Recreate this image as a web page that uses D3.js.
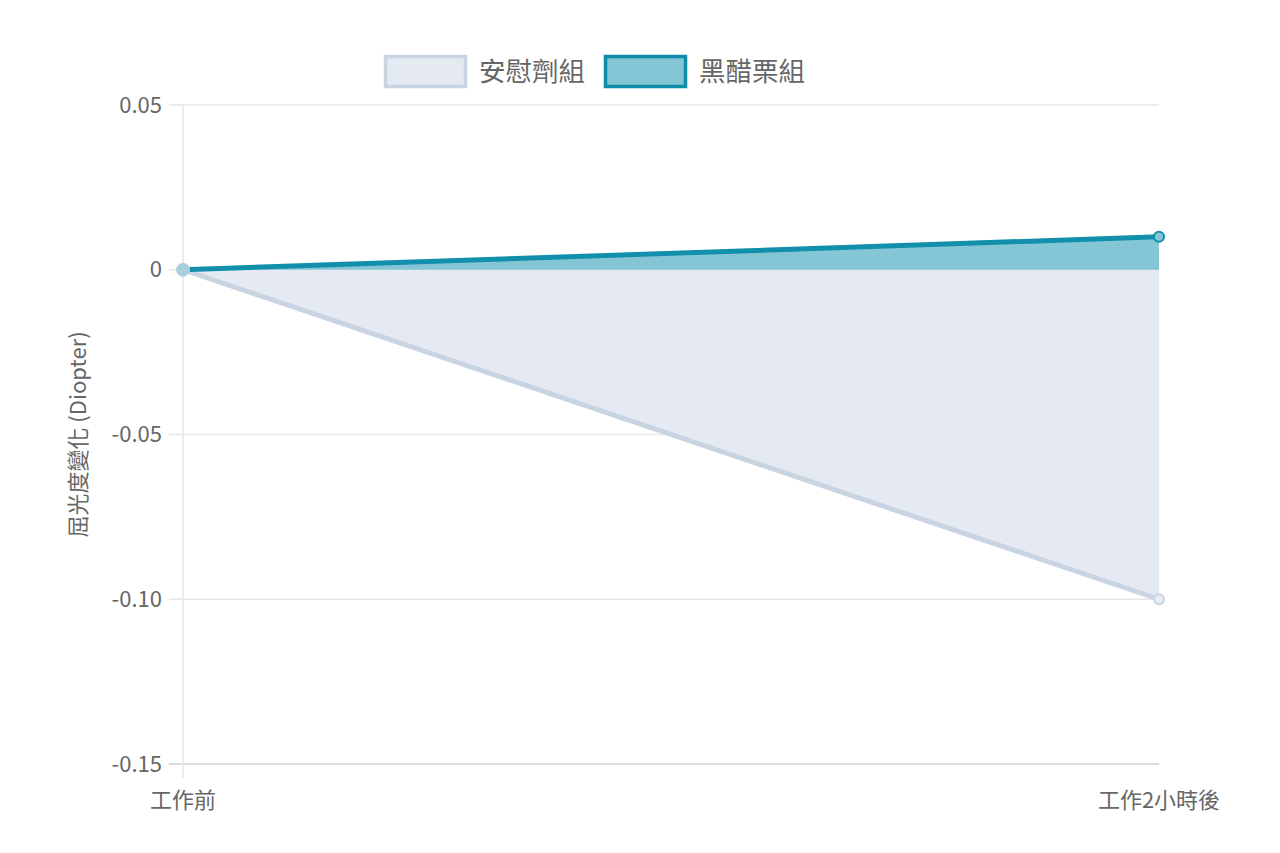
<!DOCTYPE html>
<html>
<head>
<meta charset="utf-8">
<script src="https://cdn.jsdelivr.net/npm/d3@7"></script>
<style>
  body { margin: 0; background: #fff; }
  text { font-family: "Noto Sans CJK TC", "Noto Sans", sans-serif; fill: #666; }
</style>
</head>
<body>
<div id="chart"></div>
<script>
// data
const labels = ["工作前", "工作2小時後"];
const seriesNames = ["安慰劑組", "黑醋栗組"];
const placebo = [0, -0.10];
const blackcurrant = [0, 0.01];
const yTicks = [0.05, 0, -0.05, -0.10, -0.15];
const yTickLabels = ["0.05", "0", "-0.05", "-0.10", "-0.15"];

const W = 1280, H = 853;
const margin = { top: 105, right: 121, bottom: 89, left: 183 },
    width = W - margin.left - margin.right,
    height = H - margin.top - margin.bottom;

const svg = d3.select("#chart")
    .append("svg")
    .attr("width", W)
    .attr("height", H);

const g = svg.append("g")
    .attr("transform", `translate(${margin.left}, ${margin.top})`);

const x = d3.scalePoint()
    .domain(labels)
    .range([0, width]);

const y = d3.scaleLinear()
    .domain([-0.15, 0.05])
    .range([height, 0]);

// grid lines + y ticks
g.append("g")
    .selectAll("line")
    .data(yTicks)
    .join("line")
    .attr("x1", -14)
    .attr("x2", width)
    .attr("y1", d => y(d))
    .attr("y2", d => y(d))
    .attr("stroke", (d, i) => i === yTicks.length - 1 ? "#d0d0d0" : "#e6e6e6")
    .attr("stroke-width", 1.5);

g.append("line")
    .attr("x1", 0).attr("x2", 0)
    .attr("y1", 0).attr("y2", height + 14)
    .attr("stroke", "#e6e6e6")
    .attr("stroke-width", 1.5);

g.append("g")
    .selectAll("text")
    .data(yTicks)
    .join("text")
    .attr("x", -21)
    .attr("y", d => y(d))
    .attr("dy", "0.35em")
    .attr("text-anchor", "end")
    .style("font-size", "22px")
    .text((d, i) => yTickLabels[i]);

g.append("g")
    .selectAll("text")
    .data(labels)
    .join("text")
    .attr("x", d => x(d))
    .attr("y", height + 44)
    .attr("text-anchor", "middle")
    .style("font-size", "22px")
    .text(d => d);

svg.append("text")
    .attr("transform", `translate(78, ${margin.top + y(-0.05)}) rotate(-90)`)
    .attr("text-anchor", "middle")
    .attr("dy", "0.35em")
    .style("font-size", "22px")
    .text("屈光度變化 (Diopter)");

const series = [
    { name: seriesNames[0], values: placebo, line: "#c9d4e2", fill: "#e5e9f1", point: "#e9eef5" },
    { name: seriesNames[1], values: blackcurrant, line: "#118fab", fill: "#85c6d6", point: "#85c6d6" }
];

const area = d3.area()
    .x((d, i) => x(labels[i]))
    .y0(y(0))
    .y1(d => y(d));

const line = d3.line()
    .x((d, i) => x(labels[i]))
    .y(d => y(d));

series.forEach(s => {
    g.append("path")
        .datum(s.values)
        .attr("d", area)
        .attr("fill", s.fill);
});

series.forEach(s => {
    g.append("path")
        .datum(s.values)
        .attr("d", line)
        .attr("fill", "none")
        .attr("stroke", s.line)
        .attr("stroke-width", 5);
    g.append("g")
        .selectAll("circle")
        .data(s.values)
        .join("circle")
        .attr("cx", (d, i) => x(labels[i]))
        .attr("cy", d => y(d))
        .attr("r", 5)
        .attr("fill", s.point)
        .attr("stroke", s.line)
        .attr("stroke-width", 2);
});

// first point overlay (light blue as in reference)
g.append("circle")
    .attr("cx", x(labels[0]))
    .attr("cy", y(placebo[0]))
    .attr("r", 6.5)
    .attr("fill", "#a9cfdf")
    .attr("stroke", "#b8d3e2")
    .attr("stroke-width", 1);

// legend
const legendItems = [
    { name: seriesNames[0], fill: "#e5e9f1", stroke: "#c9d4e2", x: 384 },
    { name: seriesNames[1], fill: "#85c6d6", stroke: "#0f8ca8", x: 604 }
];
const legend = svg.append("g");
legendItems.forEach(l => {
    legend.append("rect")
        .attr("x", l.x + 1.5)
        .attr("y", 56.5)
        .attr("width", 80)
        .attr("height", 30)
        .attr("fill", l.fill)
        .attr("stroke", l.stroke)
        .attr("stroke-width", 3.5);
    legend.append("text")
        .attr("x", l.x + 95)
        .attr("y", 72)
        .attr("dy", "0.35em")
        .style("font-size", "26.5px")
        .text(l.name);
});
</script>
</body>
</html>
